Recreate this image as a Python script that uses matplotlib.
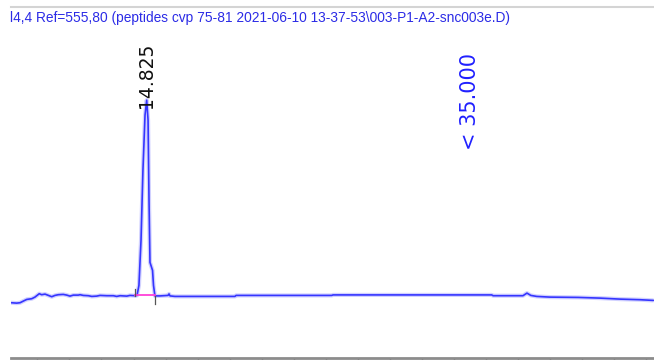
import matplotlib.pyplot as plt

# chromatogram trace (time in min, signal in mAU)
time = [6.35, 6.70, 6.91, 7.11, 7.33, 7.64, 7.84, 8.11, 8.26, 8.47, 8.68, 8.89,
        9.09, 9.30, 9.61, 9.83, 10.03, 10.24, 10.55, 10.66, 10.86, 11.18, 11.39,
        11.70, 11.91, 12.33, 12.74, 12.95, 13.16, 13.58, 13.78, 14.09, 14.22,
        14.34, 14.47, 14.59, 14.72, 14.825, 14.91, 14.97, 15.03, 15.09, 15.19,
        15.25, 15.34, 15.66, 16.16, 16.22, 16.28, 16.59, 20.34, 20.41, 26.39,
        26.47, 36.39, 36.47, 38.34, 38.59, 38.83, 39.20, 40.03, 41.78, 43.16,
        44.41, 45.66, 46.50]
signal = [-14.6, -15.4, -14.6, -11.4, -8.0, -6.6, -3.4, 3.4, 1.4, 2.6, 0.0, -2.6,
          0.0, 1.4, 2.0, 0.6, -1.4, 0.6, 0.6, 1.4, 0.0, -0.6, -2.0,
          -1.4, 0.0, -0.6, -0.6, -2.0, -0.6, -1.4, 0.0, -0.6, 0.0,
          20, 110, 250, 360, 390, 350, 190, 66, 60, 50,
          20, -1.0, -1.0, 0.0, 3.0, -1.0, -2.0, -2.0, 0.0, 0.0,
          1.0, 1.0, -0.6, -0.6, 4.6, 0.0, -2.0, -3.4, -4.0, -5.4,
          -7.4, -8.6, -10.0]

peak_rt = 14.825
peak_label = "14.825"
peak_start, peak_end = 14.09, 15.34
event_time = 35.0
event_label = "< 35.000"
title = "l4,4 Ref=555,80 (peptides cvp 75-81 2021-06-10 13-37-53\\003-P1-A2-snc003e.D)"

fig = plt.figure(figsize=(6.54, 3.6), dpi=100)
ax = fig.add_axes([11 / 654, 2.5 / 360, 1 - 11 / 654, (357.5 - 7) / 360])

ax.plot(time, signal, color='#9a9aff', lw=3, alpha=0.45, solid_capstyle='butt')
ax.plot(time, signal, color='#3535ff', lw=1.2)

# integration baseline and markers
ax.plot([peak_start, peak_end], [0, 0], color='#ff40d8', lw=1.3)
ax.plot([peak_start, peak_start], [-2, 12], color='#555555', lw=0.9)
ax.plot([peak_end, peak_end], [-18, -2], color='#555555', lw=0.9)

ax.text(peak_rt, 374, peak_label, rotation=90, ha='center', va='bottom',
        fontsize=13.5, color='#111111')
ax.text(event_time, 290, event_label, rotation=90, ha='center', va='bottom',
        fontsize=15, color='#2020ff')

ax.set_xlim(6.344, 46.53)
ax.set_ylim(-124, 576)
ax.set_xticks(range(8, 47, 2))
ax.set_xticklabels([])
ax.set_yticks([])
ax.tick_params(axis='x', direction='out', length=6, width=1, color='#555555')
for side in ['left', 'right']:
    ax.spines[side].set_visible(False)
ax.spines['top'].set_color('#d4d4d4')
ax.spines['top'].set_linewidth(1.5)
ax.spines['bottom'].set_color('#8c8c8c')
ax.spines['bottom'].set_linewidth(2)

fig.text(10 / 654, 1 - 18 / 360, title, ha='left', va='center',
         fontsize=9.9, color='#2b2be6', family='Liberation Sans')

fig.savefig('out.png', dpi=100)
